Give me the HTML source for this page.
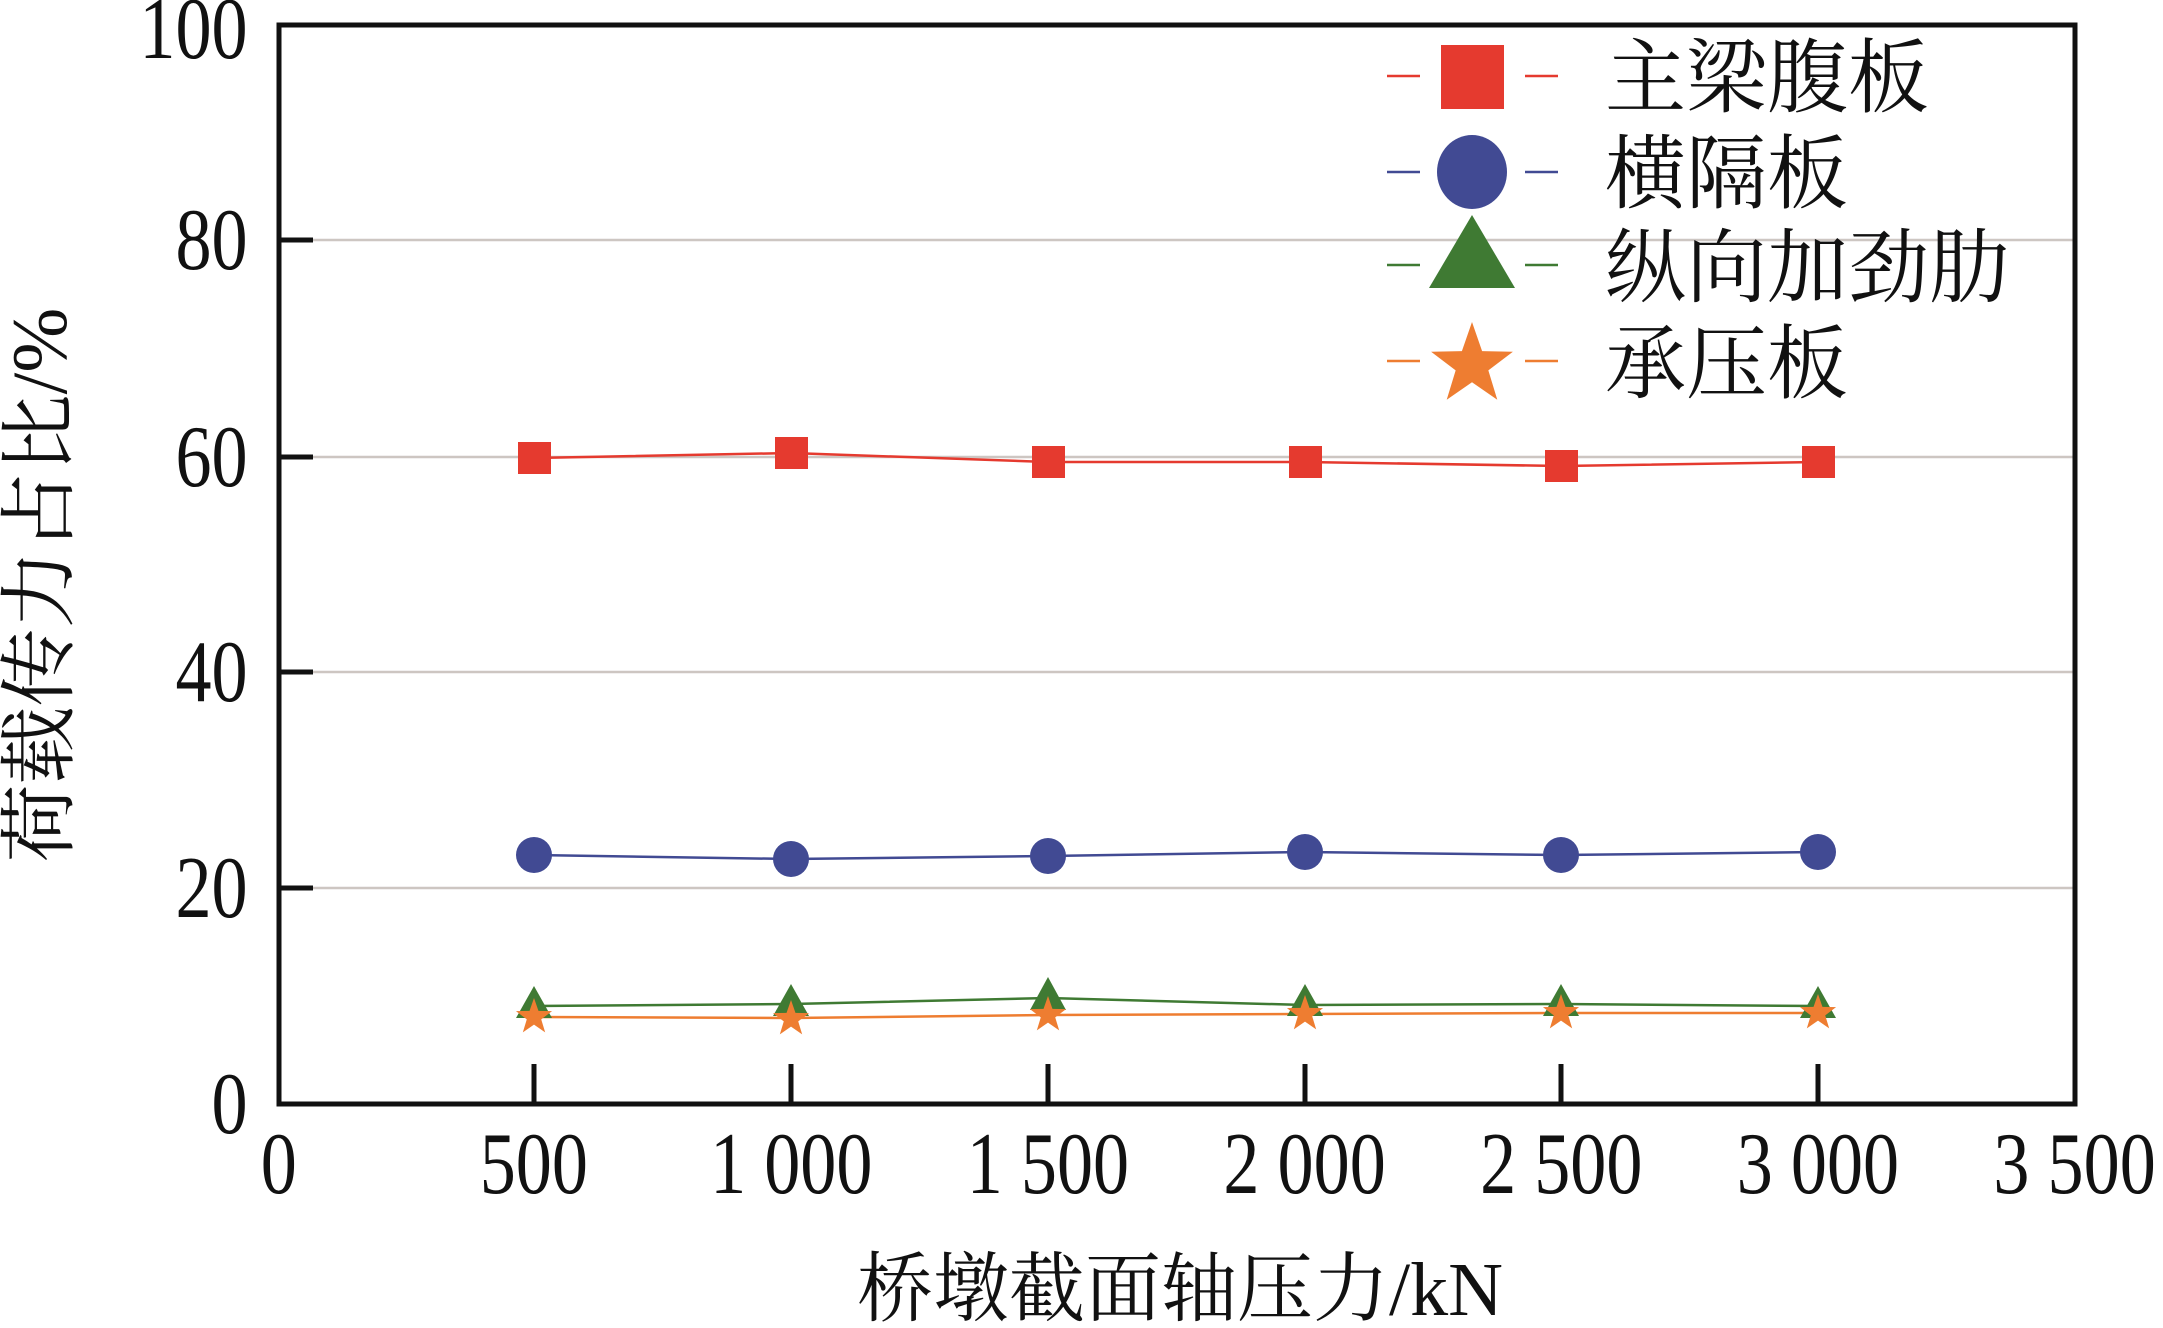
<!DOCTYPE html>
<html><head><meta charset="utf-8"><style>
html,body{margin:0;padding:0;background:#fff;}
svg{display:block;}
text{font-family:"Liberation Serif","Noto Serif CJK SC",serif;fill:#111;}
</style></head><body>
<svg width="2163" height="1328" viewBox="0 0 2163 1328" xmlns="http://www.w3.org/2000/svg">
<defs>
<polygon id="star" points="0,-1 0.235,-0.324 0.951,-0.309 0.380,0.124 0.588,0.809 0,0.4 -0.588,0.809 -0.380,0.124 -0.951,-0.309 -0.235,-0.324"/>
</defs>
<g stroke="#cdc6c2" stroke-width="2.5">
<line x1="313" y1="240" x2="2075" y2="240"/>
<line x1="313" y1="457" x2="2075" y2="457"/>
<line x1="313" y1="672" x2="2075" y2="672"/>
<line x1="313" y1="888" x2="2075" y2="888"/>
</g>
<g stroke="#111" stroke-width="5">
<line x1="279" y1="240" x2="313" y2="240"/>
<line x1="279" y1="457" x2="313" y2="457"/>
<line x1="279" y1="672" x2="313" y2="672"/>
<line x1="279" y1="888" x2="313" y2="888"/>
<line x1="534" y1="1104" x2="534" y2="1064"/>
<line x1="791" y1="1104" x2="791" y2="1064"/>
<line x1="1048" y1="1104" x2="1048" y2="1064"/>
<line x1="1305" y1="1104" x2="1305" y2="1064"/>
<line x1="1561" y1="1104" x2="1561" y2="1064"/>
<line x1="1818" y1="1104" x2="1818" y2="1064"/>
</g>
<rect x="279" y="25" width="1796" height="1079" fill="none" stroke="#111" stroke-width="5"/>
<g transform="scale(0.82,1)" font-size="88">
<g text-anchor="end">
<text x="302" y="58">100</text>
<text x="302" y="269">80</text>
<text x="302" y="486">60</text>
<text x="302" y="701">40</text>
<text x="302" y="917">20</text>
<text x="302" y="1133">0</text>
</g>
<g text-anchor="middle">
<text x="340" y="1193">0</text>
<text x="651" y="1193">500</text>
<text x="965" y="1193">1 000</text>
<text x="1278" y="1193">1 500</text>
<text x="1591" y="1193">2 000</text>
<text x="1904" y="1193">2 500</text>
<text x="2217" y="1193">3 000</text>
<text x="2530" y="1193">3 500</text>
</g>
</g>
<text x="1180" y="1315" font-size="76" text-anchor="middle">桥墩截面轴压力/kN</text>
<text transform="translate(66,585) rotate(-90)" font-size="78" text-anchor="middle">荷载传力占比/%</text>
<g fill="none" stroke-width="2.5">
<polyline stroke="#e53a2f" points="534,458 791,453 1048,462 1305,462 1561,466 1818,462"/>
<polyline stroke="#414a93" points="534,855 791,859 1048,856 1305,852 1561,855 1818,852"/>
<polyline stroke="#3f7a33" points="534,1006 791,1004 1048,998 1305,1005 1561,1004 1818,1006"/>
<polyline stroke="#ee7d31" points="534,1017 791,1018 1048,1015 1305,1014 1561,1013 1818,1013"/>
</g>
<g fill="#e53a2f">
<rect x="518" y="442" width="33" height="32"/><rect x="775" y="437" width="33" height="32"/>
<rect x="1032" y="446" width="33" height="32"/><rect x="1289" y="446" width="33" height="32"/>
<rect x="1545" y="450" width="33" height="32"/><rect x="1802" y="446" width="33" height="32"/>
</g>
<g fill="#414a93">
<circle cx="534" cy="855" r="18"/><circle cx="791" cy="859" r="18"/><circle cx="1048" cy="856" r="18"/>
<circle cx="1305" cy="852" r="18"/><circle cx="1561" cy="855" r="18"/><circle cx="1818" cy="852" r="18"/>
</g>
<g fill="#3f7a33">
<polygon points="534,986 552,1018 516,1018"/><polygon points="791,984 809,1016 773,1016"/>
<polygon points="1048,977 1066,1010 1030,1010"/><polygon points="1305,984 1323,1016 1287,1016"/>
<polygon points="1561,984 1579,1016 1543,1016"/><polygon points="1818,986 1836,1018 1800,1018"/>
</g>
<g fill="#ee7d31">
<use href="#star" transform="translate(534,1017) scale(19)"/><use href="#star" transform="translate(791,1019) scale(19)"/>
<use href="#star" transform="translate(1048,1015) scale(19)"/><use href="#star" transform="translate(1305,1014) scale(19)"/>
<use href="#star" transform="translate(1561,1013) scale(19)"/><use href="#star" transform="translate(1818,1013) scale(19)"/>
</g>
<g stroke-width="2.5">
<line x1="1387" y1="76" x2="1420" y2="76" stroke="#e53a2f"/><line x1="1525" y1="76" x2="1558" y2="76" stroke="#e53a2f"/>
<line x1="1387" y1="172" x2="1420" y2="172" stroke="#414a93"/><line x1="1525" y1="172" x2="1558" y2="172" stroke="#414a93"/>
<line x1="1387" y1="265" x2="1420" y2="265" stroke="#3f7a33"/><line x1="1525" y1="265" x2="1558" y2="265" stroke="#3f7a33"/>
<line x1="1387" y1="361" x2="1420" y2="361" stroke="#ee7d31"/><line x1="1525" y1="361" x2="1558" y2="361" stroke="#ee7d31"/>
</g>
<rect x="1441" y="45" width="63" height="64" fill="#e53a2f"/>
<ellipse cx="1472" cy="172" rx="35" ry="37" fill="#414a93"/>
<polygon points="1472,215 1515,288 1429,288" fill="#3f7a33"/>
<use href="#star" transform="translate(1472,365) scale(43)" fill="#ee7d31"/>
<g font-size="81">
<text x="1605" y="106">主梁腹板</text>
<text x="1605" y="202">横隔板</text>
<text x="1605" y="296">纵向加劲肋</text>
<text x="1605" y="392">承压板</text>
</g>
</svg>
</body></html>
